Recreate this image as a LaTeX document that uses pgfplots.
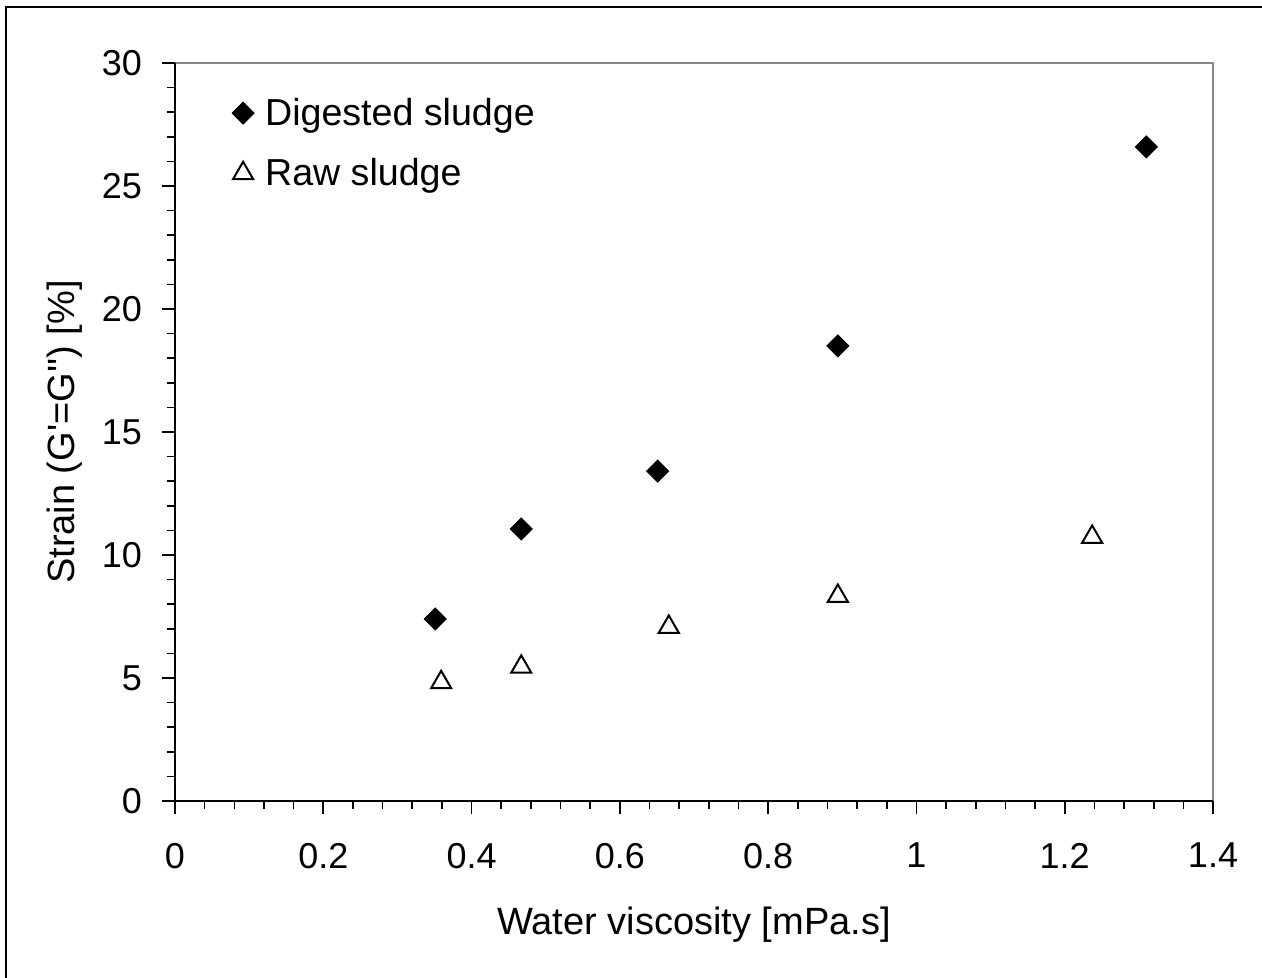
\documentclass[border=0pt]{standalone}
\usepackage{pgfplots}
\pgfplotsset{compat=1.18}
\usepackage{fontspec}
\setmainfont{Liberation Sans}
\newfontfamily\rawfont{Liberation Sans}
\definecolor{spinegray}{HTML}{888888}
\begin{document}
\begin{tikzpicture}
\useasboundingbox (0,0) rectangle (631pt,489pt);
\draw[line width=1pt] (3pt,0) -- (3pt,485.5pt) -- (631pt,485.5pt);
\begin{axis}[
  at={(87.5pt,88.5pt)}, anchor=south west,
  scale only axis, width=519pt, height=369pt,
  xmin=0, xmax=1.4, ymin=0, ymax=30,
  xtick={0,0.2,0.4,0.6,0.8,1,1.2,1.4},
  ytick={0,5,10,15,20,25,30},
  minor x tick num=4, minor y tick num=4,
  xtick pos=left, ytick pos=left,
  tick align=outside,
  major tick length=6.5pt, minor tick length=4pt,
  tick style={black, line width=0.8pt},
  axis line style={draw=none},
  /pgf/number format/assume math mode=true,
  xticklabel style={font=\fontsize{18}{21}\selectfont, yshift=-11pt},
  yticklabel style={font=\fontsize{18}{21}\selectfont, xshift=-6.5pt},
  scaled ticks=false,
  xticklabel={\pgfmathprintnumber[fixed,precision=1]{\tick}},
  xlabel={Water viscosity [mPa.s]},
  ylabel={{\rawfont Strain (G'=G'') [\%]}},
  every axis x label/.style={at={(rel axis cs:0.5,0)}, yshift=-62pt, anchor=center, font=\fontsize{19}{22}\selectfont},
  every axis y label/.style={at={(rel axis cs:0,0.5)}, xshift=-55pt, rotate=90, anchor=center, font=\fontsize{19}{22}\selectfont},
  clip=false,
  legend style={draw=none, fill=none, at={(rel axis cs:0.043,0.964)}, anchor=north west,
    font=\fontsize{18.8}{22}\selectfont, row sep=11pt},
  legend cell align=left,
  legend image code/.code={\path[draw=none,fill=none] (0,0) -- (0.3cm+9pt,0); \draw[#1] plot coordinates {(0.3cm,0cm)};},
]
\addplot[only marks, mark=square*, mark size=3.9pt, mark options={rotate=45, fill=black, draw=black}]
  coordinates {(0.351,7.40) (0.467,11.06) (0.651,13.41) (0.894,18.50) (1.310,26.59)};
\addlegendentry{Digested sludge}
\addplot[only marks, mark=triangle, mark size=5.8pt, mark options={draw=black, fill=white, line width=1pt}]
  coordinates {(0.359,4.82) (0.467,5.45) (0.666,7.07) (0.894,8.33) (1.237,10.73)};
\addlegendentry{Raw sludge}
\draw[spinegray, line width=1pt] (rel axis cs:0,1) -- (rel axis cs:1,1) -- (rel axis cs:1,0);
\draw[black, line width=1pt] (rel axis cs:0,1) -- (rel axis cs:0,0) -- (rel axis cs:1,0);
\end{axis}
\end{tikzpicture}
\end{document}
